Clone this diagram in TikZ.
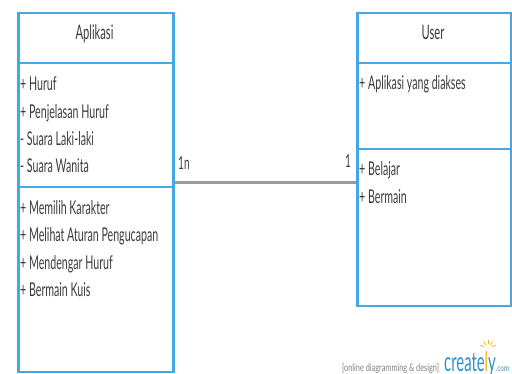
\documentclass[tikz,border=0pt]{standalone}
\usepackage{fontspec}
\setmainfont{Lato}[FakeStretch=0.56]
\newfontfamily\logofont{Lato}[FakeStretch=0.7]
\newfontfamily\logobig{Lato}[FakeStretch=0.55]
\definecolor{umlblue}{HTML}{45A8E4}
\definecolor{txtgrey}{HTML}{3C3C3C}
\definecolor{lineg}{HTML}{9A9A9A}
\definecolor{logoblue}{HTML}{2E8FD0}
\definecolor{logoyel}{HTML}{F5B41E}
\tikzset{
  comp/.style={draw=umlblue, line width=2.5pt, anchor=north west, inner sep=0pt},
  title/.style={anchor=base, text=txtgrey, font=\fontsize{20}{22}\selectfont, inner sep=0pt},
  member/.style={anchor=base west, text=txtgrey, font=\fontsize{19}{21}\selectfont, inner sep=0pt},
  mult/.style={anchor=base west, text=txtgrey, font=\fontsize{18}{20}\selectfont, inner sep=0pt},
  assoc/.style={draw=lineg, line width=3pt},
}
\begin{document}
\begin{tikzpicture}[x=1pt,y=-1pt]
\useasboundingbox (0,0) rectangle (512,374);
% left class
\node[comp, minimum width=155pt, minimum height=50pt] (hL) at (17,12) {};
\node[comp, minimum width=155pt, minimum height=124pt] (aL) at (17,62) {};
\node[comp, minimum width=155pt, minimum height=185pt] (mL) at (17,186) {};
% right class
\node[comp, minimum width=154pt, minimum height=50pt] (hR) at (356,12) {};
\node[comp, minimum width=154pt, minimum height=86pt] (aR) at (356,62) {};
\node[comp, minimum width=154pt, minimum height=157pt] (mR) at (356,148) {};
% titles
\node[title] (tL) at (94.5,40) {Aplikasi};
\node[title] (tR) at (433,40) {User};
% left members
\node[member] (a1) at (20,91) {+ Huruf};
\node[member] (a2) at (20,118.5) {+ Penjelasan Huruf};
\node[member] (a3) at (20,146) {- Suara Laki-laki};
\node[member] (a4) at (20,173) {- Suara Wanita};
\node[member] (m1) at (20,214.5) {+ Memilih Karakter};
\node[member] (m2) at (20,242) {+ Melihat Aturan Pengucapan};
\node[member] (m3) at (20,269.5) {+ Mendengar Huruf};
\node[member] (m4) at (20,297) {+ Bermain Kuis};
% right members
\node[member] (r1) at (359,90) {+ Aplikasi yang diakses};
\node[member] (r2) at (359,176) {+ Belajar};
\node[member] (r3) at (359,204) {+ Bermain};
% association
\coordinate (cl) at (aL.east |- 0,183);
\coordinate (cr) at (mR.west |- 0,183);
\draw[assoc] (cl) -- (cr);
\node[mult] (n1) at (178,170) {1n};
\node[mult] (n2) at (345,168) {1};
% logo
\node[anchor=base west, inner sep=0pt, text=gray, font=\logofont\fontsize{10.5}{12}\selectfont] (lg1) at (342,371) {[online diagramming \& design]};
\node[anchor=base west, inner sep=0pt, font=\logobig\fontsize{27}{30}\selectfont] (lg2) at (444,371) {\textcolor{logoblue}{create}\textcolor{logoyel}{l}\textcolor{logoblue}{y}\textcolor{logoblue!70!gray}{\logofont\fontsize{9}{11}\selectfont.com}};
\foreach \a in {20,55,90,125,160} {
  \draw[logoyel, line width=0.8pt] (488,348) ++(\a:4pt) -- ++(\a:4pt);
}
\end{tikzpicture}
\end{document}
